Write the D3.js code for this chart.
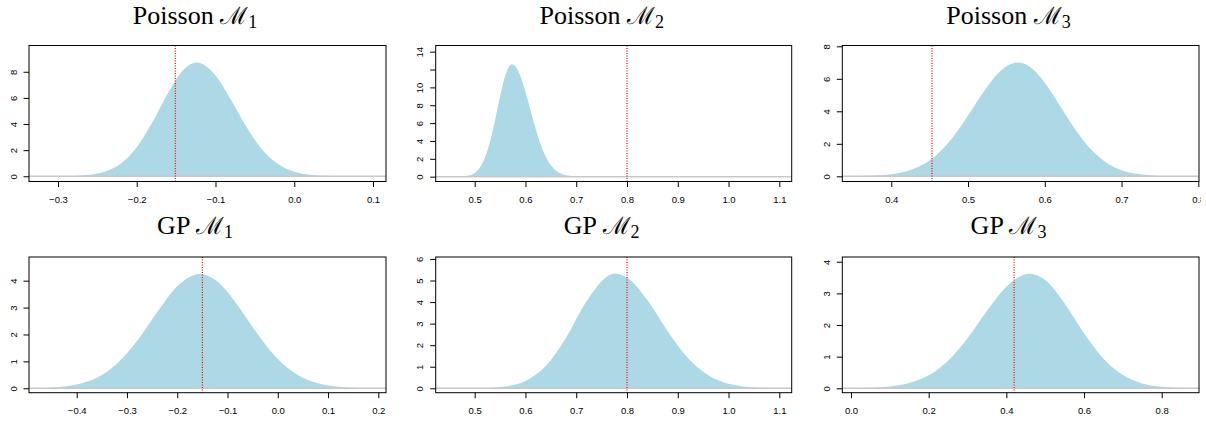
<!DOCTYPE html>
<html>
<head>
<meta charset="utf-8">
<script src="https://cdn.jsdelivr.net/npm/d3@7"></script>
<style>
  body { margin: 0; background: #fff; }
</style>
</head>
<body>
<div id="chart"></div>
<script>
// panel titles
const models = ["Poisson", "Poisson", "Poisson", "GP", "GP", "GP"];
const subs = ["1", "2", "3", "1", "2", "3"];

// true parameter values (red dotted lines)
const truth = [-0.151, 0.8, 0.453, -0.15, 0.8, 0.42];

// posterior densities
const poisM1X = [-0.34, -0.30, -0.28, -0.26, -0.24, -0.22, -0.20, -0.18, -0.16, -0.14, -0.124, -0.10, -0.08, -0.06, -0.04, -0.02, 0.00, 0.02, 0.04, 0.06, 0.08, 0.11];
const poisM1Y = [0.000, 0.006, 0.028, 0.11, 0.36, 0.98, 2.22, 4.15, 6.40, 8.19, 8.70, 7.72, 5.81, 3.71, 2.00, 0.92, 0.35, 0.12, 0.032, 0.007, 0.001, 0.000];

const poisM2X = [0.43, 0.45, 0.47, 0.49, 0.50, 0.51, 0.52, 0.53, 0.54, 0.55, 0.56, 0.573, 0.58, 0.59, 0.60, 0.61, 0.62, 0.63, 0.64, 0.65, 0.66, 0.67, 0.68, 0.70, 0.72, 0.75];
const poisM2Y = [0.000, 0.001, 0.015, 0.16, 0.42, 1.00, 2.10, 3.87, 6.29, 9.00, 11.3, 12.6, 12.37, 11.27, 9.51, 7.43, 5.37, 3.60, 2.23, 1.28, 0.68, 0.33, 0.15, 0.025, 0.003, 0.000];

const poisM3X = [0.34, 0.36, 0.38, 0.40, 0.42, 0.44, 0.46, 0.48, 0.50, 0.52, 0.54, 0.565, 0.58, 0.60, 0.62, 0.64, 0.66, 0.68, 0.70, 0.72, 0.74, 0.76, 0.78, 0.80];
const poisM3Y = [0.004, 0.013, 0.043, 0.12, 0.31, 0.69, 1.36, 2.39, 3.74, 5.18, 6.38, 7.00, 6.75, 5.76, 4.32, 2.86, 1.66, 0.85, 0.38, 0.15, 0.053, 0.016, 0.004, 0.001];

const gpM1X = [-0.49, -0.44, -0.40, -0.36, -0.32, -0.28, -0.24, -0.20, -0.155, -0.12, -0.08, -0.04, 0.00, 0.04, 0.08, 0.12, 0.16, 0.21];
const gpM1Y = [0.007, 0.043, 0.142, 0.394, 0.911, 1.755, 2.824, 3.79, 4.25, 3.965, 3.09, 2.01, 1.09, 0.495, 0.187, 0.059, 0.015, 0.002];

const gpM2X = [0.43, 0.48, 0.52, 0.56, 0.60, 0.64, 0.68, 0.72, 0.776, 0.80, 0.84, 0.88, 0.92, 0.96, 1.00, 1.04, 1.08, 1.12];
const gpM2Y = [0.000, 0.002, 0.016, 0.084, 0.34, 1.03, 2.35, 4.03, 5.33, 5.135, 4.09, 2.65, 1.40, 0.60, 0.209, 0.059, 0.014, 0.003];

const gpM3X = [-0.02, 0.05, 0.10, 0.15, 0.20, 0.25, 0.30, 0.35, 0.40, 0.461, 0.50, 0.55, 0.60, 0.65, 0.70, 0.75, 0.80, 0.85, 0.90];
const gpM3Y = [0.002, 0.016, 0.056, 0.164, 0.409, 0.871, 1.58, 2.44, 3.21, 3.62, 3.42, 2.68, 1.74, 0.938, 0.418, 0.154, 0.047, 0.012, 0.002];

const densX = [poisM1X, poisM2X, poisM3X, gpM1X, gpM2X, gpM3X];
const densY = [poisM1Y, poisM2Y, poisM3Y, gpM1Y, gpM2Y, gpM3Y];

// axis limits and ticks
const xLims = [[-0.3368, 0.1165], [0.4232, 1.1244], [0.3362, 0.8009], [-0.4949, 0.2153], [0.4232, 1.1244], [-0.0224, 0.896]];
const yLims = [[-0.40, 10.01], [-0.54, 14.69], [-0.32, 8.05], [-0.164, 4.88], [-0.204, 6.09], [-0.139, 4.15]];
const xTicks = [
  [-0.3, -0.2, -0.1, 0.0, 0.1],
  [0.5, 0.6, 0.7, 0.8, 0.9, 1.0, 1.1],
  [0.4, 0.5, 0.6, 0.7, 0.8],
  [-0.4, -0.3, -0.2, -0.1, 0.0, 0.1, 0.2],
  [0.5, 0.6, 0.7, 0.8, 0.9, 1.0, 1.1],
  [0.0, 0.2, 0.4, 0.6, 0.8]
];
const yTicks = [
  [0, 2, 4, 6, 8],
  [0, 2, 4, 6, 8, 10, 12, 14],
  [0, 2, 4, 6, 8],
  [0, 1, 2, 3, 4],
  [0, 1, 2, 3, 4, 5, 6],
  [0, 1, 2, 3, 4]
];
const yHidden = [[], [12], [], [], [], []];  // labels dropped for overlap

// layout
const width = 1206, height = 422;
const cols = [[29, 386], [435.7, 791.7], [842.3, 1199]];
const rows = [[45.5, 181.5], [257, 392.7]];
const titleX = [195, 601.7, 1008.5];
const titleY = [24.3, 234.3];

const svg = d3.select("#chart")
  .append("svg")
  .attr("width", width)
  .attr("height", height);

const defs = svg.append("defs");
const fmt = d3.format(".1f");
const tickFont = "'Liberation Sans', Arial, sans-serif";

for (let i = 0; i < 6; i++) {
  const c = i % 3, r = Math.floor(i / 3);
  const x = d3.scaleLinear().domain(xLims[i]).range(cols[c]);
  const y = d3.scaleLinear().domain(yLims[i]).range([rows[r][1], rows[r][0]]);
  const g = svg.append("g");

  const clipId = "clip" + i;
  defs.append("clipPath").attr("id", clipId)
    .append("rect")
    .attr("x", cols[c][0]).attr("y", rows[r][0])
    .attr("width", cols[c][1] - cols[c][0])
    .attr("height", rows[r][1] - rows[r][0]);

  const plot = g.append("g").attr("clip-path", `url(#${clipId})`);

  // density polygon
  const pts = densX[i].map((v, k) => [v, densY[i][k]]);
  const area = d3.area()
    .curve(d3.curveMonotoneX)
    .x(d => x(d[0]))
    .y0(y(0))
    .y1(d => y(d[1]));
  plot.append("path")
    .datum(pts)
    .attr("d", area)
    .attr("fill", "#add8e6");

  // zero line
  plot.append("line")
    .attr("x1", cols[c][0]).attr("x2", cols[c][1])
    .attr("y1", y(0)).attr("y2", y(0))
    .attr("stroke", "#c8c8c8")
    .attr("stroke-width", 1.5);

  // true value
  plot.append("line")
    .attr("x1", x(truth[i])).attr("x2", x(truth[i]))
    .attr("y1", rows[r][0]).attr("y2", rows[r][1])
    .attr("stroke", "red")
    .attr("stroke-width", 1.2)
    .attr("stroke-dasharray", "1,1.5");

  // box
  g.append("rect")
    .attr("x", cols[c][0]).attr("y", rows[r][0])
    .attr("width", cols[c][1] - cols[c][0])
    .attr("height", rows[r][1] - rows[r][0])
    .attr("fill", "none")
    .attr("stroke", "#000")
    .attr("stroke-width", 1);

  // x axis
  const xa = g.append("g")
    .attr("transform", `translate(0,${rows[r][1]})`)
    .call(d3.axisBottom(x).tickValues(xTicks[i]).tickSize(5.5).tickPadding(9).tickFormat(fmt));
  xa.select(".domain").remove();
  xa.attr("font-family", tickFont).attr("font-size", 9.5);

  // y axis with rotated labels
  const ya = g.append("g")
    .attr("transform", `translate(${cols[c][0]},0)`)
    .call(d3.axisLeft(y).tickValues(yTicks[i]).tickSize(5.5)
      .tickFormat(d => yHidden[i].includes(d) ? "" : d3.format("d")(d)));
  ya.select(".domain").remove();
  ya.attr("font-family", tickFont).attr("font-size", 9.5);
  ya.selectAll(".tick text")
    .attr("x", 0).attr("y", -12.5).attr("dy", null)
    .attr("text-anchor", "middle")
    .attr("transform", "rotate(-90)");

  // title
  const t = svg.append("text")
    .attr("x", titleX[c]).attr("y", titleY[r])
    .attr("text-anchor", "middle")
    .attr("font-family", "'Liberation Serif', 'DejaVu Serif', serif")
    .attr("font-size", 26)
    .attr("fill", "#000");
  t.append("tspan").text(models[i] + " ");
  t.append("tspan").attr("font-family", "'DejaVu Serif', serif").attr("font-size", 24).text("ℳ");
  t.append("tspan").attr("font-size", 18).attr("dy", 4).text(subs[i]);
}

// the original figure is cut off at the right edge
svg.append("rect")
  .attr("x", 1201).attr("y", 0)
  .attr("width", width - 1201).attr("height", height)
  .attr("fill", "#fff");
</script>
</body>
</html>
